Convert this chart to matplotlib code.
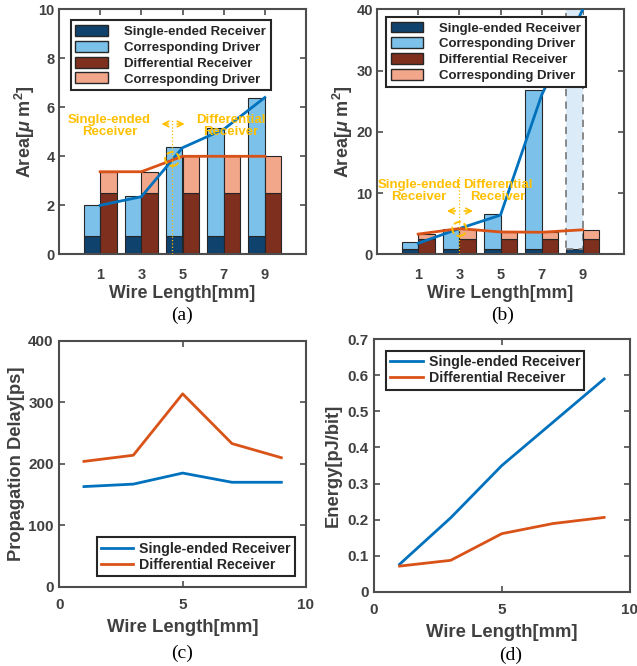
import numpy as np
import matplotlib
matplotlib.use("Agg")
import matplotlib.pyplot as plt
from matplotlib.patches import Patch, Ellipse

plt.rcParams['font.family'] = ['Liberation Sans', 'DejaVu Sans']
plt.rcParams['font.weight'] = 'bold'
plt.rcParams['mathtext.fontset'] = 'custom'
plt.rcParams['mathtext.it'] = 'Liberation Sans:italic:bold'
plt.rcParams['mathtext.rm'] = 'Liberation Sans:bold'

# ---------------- data ----------------
wire_labels = ['1', '3', '5', '7', '9']
wire_len = [1, 3, 5, 7, 9]

# (a) area, zoomed
se_recv_a = [0.75, 0.75, 0.75, 0.75, 0.75]
se_total_a = [2.0, 2.4, 4.4, 5.15, 6.4]
diff_recv_a = [2.5, 2.5, 2.5, 2.5, 2.5]
diff_total_a = [3.37, 3.37, 4.0, 4.0, 4.0]
se_line_a = [2.0, 2.35, 4.35, 5.1, 6.4]
diff_line_a = [3.37, 3.37, 4.0, 4.0, 4.0]

# (b) area, full range
se_recv_b = [0.8, 0.8, 0.8, 0.8, 0.8]
se_total_b = [2.05, 4.08, 6.55, 26.8, 40.0]
diff_recv_b = [2.5, 2.5, 2.5, 2.5, 2.5]
diff_total_b = [3.3, 4.1, 3.65, 3.65, 4.0]
se_line_b = [1.8, 4.2, 6.4, 26.0, 40.0]
diff_line_b = [3.3, 4.2, 3.65, 3.6, 4.0]

# (c) propagation delay [ps]
delay_se = [163, 167, 185, 170, 170]
delay_diff = [204, 214, 314, 233, 210]

# (d) energy [pJ/bit]
energy_se = [0.076, 0.205, 0.35, 0.47, 0.59]
energy_diff = [0.071, 0.087, 0.161, 0.189, 0.206]

# ---------------- style ----------------
C_SE_RX = '#10426E'
C_SE_DRV = '#7BC1EA'
C_DF_RX = '#7E2F1D'
C_DF_DRV = '#F2A68A'
C_BLUE = '#0072BD'
C_ORANGE = '#D95319'
C_GOLD = '#FFC000'
TXT = '#404040'
SPINE = '#4D4D4D'

W, H = 637, 666
fig = plt.figure(figsize=(W / 100, H / 100), dpi=100)


def rect(l, t, r, b):
    return [l / W, 1 - b / H, (r - l) / W, (b - t) / H]


def style_axes(ax, tick_size=10.5):
    for s in ax.spines.values():
        s.set_color(SPINE)
        s.set_linewidth(1.5)
    ax.tick_params(direction='in', top=True, right=True, length=4, width=1.2,
                   colors=SPINE, labelcolor=TXT, labelsize=tick_size)
    for lab in ax.get_xticklabels() + ax.get_yticklabels():
        lab.set_fontweight('bold')


def area_panel(ax, se_recv, se_total, diff_recv, diff_total, se_line, diff_line,
               ymax, yticks, dashed_last=False):
    idx = np.arange(1, len(wire_labels) + 1)
    bw = 0.4
    se_drv = np.array(se_total) - np.array(se_recv)
    df_drv = np.array(diff_total) - np.array(diff_recv)
    ax.bar(idx - bw / 2, se_recv, bw, color=C_SE_RX, edgecolor='#262626', linewidth=0.8, zorder=2)
    bars = ax.bar(idx - bw / 2, se_drv, bw, bottom=se_recv, color=C_SE_DRV,
                  edgecolor='#262626', linewidth=0.8, zorder=2)
    if dashed_last:
        b = bars[-1]
        b.set_facecolor('#DCEBF8')
        b.set_edgecolor('#808080')
        b.set_linestyle((0, (4, 3)))
        b.set_linewidth(1.3)
    ax.bar(idx + bw / 2, diff_recv, bw, color=C_DF_RX, edgecolor='#262626', linewidth=0.8, zorder=2)
    ax.bar(idx + bw / 2, df_drv, bw, bottom=diff_recv, color=C_DF_DRV,
           edgecolor='#262626', linewidth=0.8, zorder=2)
    ax.plot(idx, se_line, color=C_BLUE, lw=2.0, zorder=4, clip_on=True)
    ax.plot(idx, diff_line, color=C_ORANGE, lw=2.0, zorder=4)
    ax.set_xlim(0, 6)
    ax.set_ylim(0, ymax)
    ax.set_xticks(idx)
    ax.set_xticklabels(wire_labels)
    ax.set_yticks(yticks)
    ax.set_yticklabels([str(v) for v in yticks])
    style_axes(ax)
    ax.tick_params(axis='x', pad=10)
    ax.tick_params(axis='y', pad=3)
    ax.set_xlabel('Wire Length[mm]', fontsize=12.8, fontweight='bold', color=TXT, labelpad=2)
    ax.set_ylabel(r'Area[$\mu$ m$^2$]', fontsize=13, fontweight='bold', color=TXT, labelpad=1)


def area_legend(ax, anchor):
    handles = [Patch(facecolor=C_SE_RX, edgecolor='#262626'),
               Patch(facecolor=C_SE_DRV, edgecolor='#262626'),
               Patch(facecolor=C_DF_RX, edgecolor='#262626'),
               Patch(facecolor=C_DF_DRV, edgecolor='#262626')]
    labels = ['Single-ended Receiver', 'Corresponding Driver',
              'Differential Receiver', 'Corresponding Driver']
    leg = ax.legend(handles, labels, loc='upper left', bbox_to_anchor=anchor,
                    borderaxespad=0, fancybox=False, framealpha=1,
                    edgecolor='#262626', handlelength=2.5,
                    handleheight=0.9, handletextpad=1.2, labelspacing=0.22,
                    borderpad=0.35, prop={'weight': 'bold', 'size': 9.5})
    leg.get_frame().set_linewidth(1.5)
    leg.set_zorder(10)
    for t in leg.get_texts():
        t.set_color('#262626')


def gold_text(ax, x, y, s):
    ax.text(x, y, s, ha='center', va='center', color=C_GOLD, fontsize=9.5,
            fontweight='bold', linespacing=1.0, zorder=5)


# ---------------- (a) ----------------
axa = fig.add_axes(rect(59, 9.3, 306, 254.3))
area_panel(axa, se_recv_a, se_total_a, diff_recv_a, diff_total_a, se_line_a, diff_line_a,
           10, [0, 2, 4, 6, 8, 10])
area_legend(axa, (0.047, 0.956))
axa.plot([2.75, 2.75], [0, 5.48], color=C_GOLD, lw=0.9, ls=':', zorder=5)
axa.add_patch(Ellipse((2.75, 3.89), 0.34, 0.57, fill=False, edgecolor=C_GOLD,
                      ls='--', lw=1.4, zorder=5))
axa.annotate('', xy=(2.42, 5.32), xytext=(2.72, 5.32),
             arrowprops=dict(arrowstyle='->', color=C_GOLD, lw=1.2), zorder=5)
axa.annotate('', xy=(3.12, 5.32), xytext=(2.80, 5.32),
             arrowprops=dict(arrowstyle='->', color=C_GOLD, lw=1.2), zorder=5)
gold_text(axa, 1.23, 5.24, 'Single-ended\nReceiver')
gold_text(axa, 4.18, 5.24, 'Differential\nReceiver')

# ---------------- (b) ----------------
axb = fig.add_axes(rect(377, 9.3, 624, 254.3))
area_panel(axb, se_recv_b, se_total_b, diff_recv_b, diff_total_b, se_line_b, diff_line_b,
           40, [0, 10, 20, 30, 40], dashed_last=True)
area_legend(axb, (0.036, 0.969))
axb.plot([2.0, 2.0], [0, 12.9], color=C_GOLD, lw=0.9, ls=':', zorder=5)
axb.add_patch(Ellipse((2.0, 4.13), 0.34, 2.3, fill=False, edgecolor=C_GOLD,
                      ls='--', lw=1.4, zorder=5))
axb.annotate('', xy=(1.63, 7.07), xytext=(1.97, 7.07),
             arrowprops=dict(arrowstyle='->', color=C_GOLD, lw=1.2), zorder=5)
axb.annotate('', xy=(2.40, 7.07), xytext=(2.05, 7.07),
             arrowprops=dict(arrowstyle='->', color=C_GOLD, lw=1.2), zorder=5)
gold_text(axb, 1.02, 10.3, 'Single-ended\nReceiver')
gold_text(axb, 2.93, 10.3, 'Differential\nReceiver')

# ---------------- (c) ----------------
axc = fig.add_axes(rect(59.3, 341, 306, 586.7))
axc.plot(wire_len, delay_se, color=C_BLUE, lw=2.0, label='Single-ended Receiver')
axc.plot(wire_len, delay_diff, color=C_ORANGE, lw=2.0, label='Differential Receiver')
axc.set_xlim(0, 10)
axc.set_ylim(0, 400)
axc.set_xticks([0, 5, 10])
axc.set_xticklabels(['0', '5', '10'])
axc.set_yticks([0, 100, 200, 300, 400])
axc.set_yticklabels(['0', '100', '200', '300', '400'])
style_axes(axc, 11)
axc.tick_params(axis='x', pad=8)
axc.tick_params(axis='y', pad=4)
axc.set_xlabel('Wire Length[mm]', fontsize=13.3, fontweight='bold', color=TXT, labelpad=5)
axc.set_ylabel('Propagation Delay[ps]', fontsize=13.2, fontweight='bold', color=TXT, labelpad=2)
legc = axc.legend(loc='lower right', bbox_to_anchor=(0.955, 0.0435), borderaxespad=0,
                  fancybox=False, framealpha=1, edgecolor='#262626', handlelength=2.3,
                  handletextpad=0.4, labelspacing=0.15, borderpad=0.3,
                  prop={'weight': 'bold', 'size': 10.2})
legc.get_frame().set_linewidth(1.5)
for t in legc.get_texts():
    t.set_color('#262626')

# ---------------- (d) ----------------
axd = fig.add_axes(rect(374, 339.3, 629.7, 591.7))
axd.plot(wire_len, energy_se, color=C_BLUE, lw=2.0, label='Single-ended Receiver')
axd.plot(wire_len, energy_diff, color=C_ORANGE, lw=2.0, label='Differential Receiver')
axd.set_xlim(0, 10)
axd.set_ylim(0, 0.7)
axd.set_xticks([0, 5, 10])
axd.set_xticklabels(['0', '5', '10'])
yt = [0, 0.1, 0.2, 0.3, 0.4, 0.5, 0.6, 0.7]
axd.set_yticks(yt)
axd.set_yticklabels(['0', '0.1', '0.2', '0.3', '0.4', '0.5', '0.6', '0.7'])
style_axes(axd, 11)
axd.tick_params(axis='x', pad=8)
axd.tick_params(axis='y', pad=4)
axd.set_xlabel('Wire Length[mm]', fontsize=13.3, fontweight='bold', color=TXT, labelpad=5)
axd.set_ylabel('Energy[pJ/bit]', fontsize=13.2, fontweight='bold', color=TXT, labelpad=4)
legd = axd.legend(loc='upper left', bbox_to_anchor=(0.047, 0.954), borderaxespad=0,
                  fancybox=False, framealpha=1, edgecolor='#262626', handlelength=2.3,
                  handletextpad=0.4, labelspacing=0.15, borderpad=0.3,
                  prop={'weight': 'bold', 'size': 10.2})
legd.get_frame().set_linewidth(1.5)
for t in legd.get_texts():
    t.set_color('#262626')

# ---------------- captions ----------------
for x, y, s in [(182, 315, '(a)'), (503, 315, '(b)'), (182, 653, '(c)'), (511, 655, '(d)')]:
    fig.text(x / W, 1 - y / H, s, ha='center', va='center', fontsize=14,
             family='Liberation Serif', fontweight='normal', color='black')

fig.savefig('out.png', dpi=100)
